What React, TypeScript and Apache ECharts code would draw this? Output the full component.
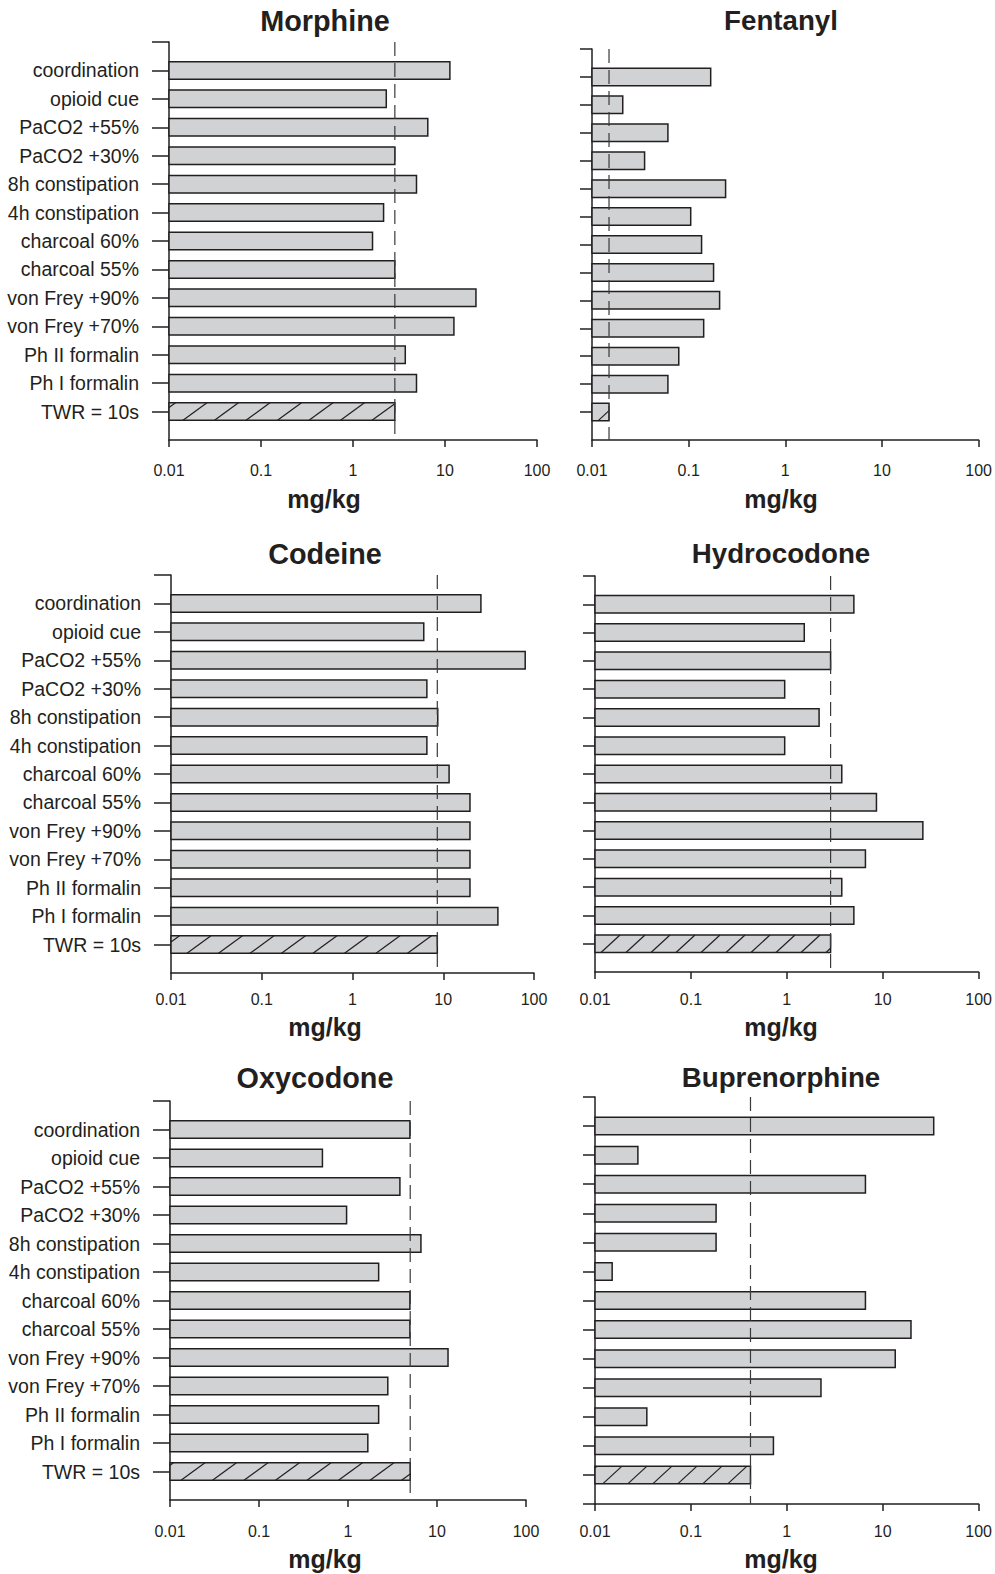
import React, { useEffect, useRef } from 'react';
import * as echarts from 'echarts';

// ---------- data ----------
const categories = [
  'coordination',
  'opioid cue',
  'PaCO2 +55%',
  'PaCO2 +30%',
  '8h constipation',
  '4h constipation',
  'charcoal 60%',
  'charcoal 55%',
  'von Frey +90%',
  'von Frey +70%',
  'Ph II formalin',
  'Ph I formalin',
  'TWR = 10s',
];

const xTickLabels = ['0.01', '0.1', '1', '10', '100'];

const morphine = [11.3, 2.3, 6.5, 2.85, 4.9, 2.15, 1.63, 2.85, 21.7, 12.5, 3.7, 4.9, 2.85];
const fentanyl = [0.169, 0.0208, 0.061, 0.035, 0.241, 0.105, 0.136, 0.181, 0.209, 0.143, 0.079, 0.061, 0.015];
const codeine = [26, 6.1, 80, 6.6, 8.7, 6.6, 11.6, 19.7, 19.7, 19.7, 19.7, 40, 8.6];
const hydrocodone = [5.0, 1.52, 2.86, 0.95, 2.17, 0.95, 3.74, 8.6, 26.2, 6.6, 3.74, 5.0, 2.86];
const oxycodone = [4.96, 0.516, 3.83, 0.964, 6.6, 2.21, 4.96, 4.96, 13.3, 2.8, 2.21, 1.67, 5.0];
const buprenorphine = [34, 0.028, 6.6, 0.183, 0.183, 0.0151, 6.6, 19.7, 13.5, 2.27, 0.0347, 0.725, 0.418];

const drugNames = ['Morphine', 'Fentanyl', 'Codeine', 'Hydrocodone', 'Oxycodone', 'Buprenorphine'];
const drugValues = [morphine, fentanyl, codeine, hydrocodone, oxycodone, buprenorphine];
const unitLabel = 'mg/kg';

// ---------- layout / style ----------
const INK = '#231f20';
const DASH = '#3a3a3a';
const FILL = '#d1d2d4';
const FONT = "'Liberation Sans', Arial, Helvetica, sans-serif";
const BAR_H = 17.5;
const X_MIN = 0.01;

const layout = [
  { grid: { left: 169, top: 42, width: 368, height: 398 }, labels: true, tickLen: 17, sp: 31.5, dx: 24, off: 14, tx: 325, ty: 20.5, tf: 28.8, ux: 324, uy: 499, lm: 22, bottomTick: false },
  { grid: { left: 592, top: 49, width: 388, height: 391 }, labels: false, tickLen: 12, sp: 25, dx: 19, off: 6, tx: 781, ty: 20.5, tf: 27.7, ux: 781, uy: 499, lm: 22, bottomTick: false },
  { grid: { left: 171, top: 575, width: 363, height: 398 }, labels: true, tickLen: 17, sp: 31.5, dx: 24, off: 16, tx: 325, ty: 554, tf: 28.8, ux: 325, uy: 1027, lm: 18, bottomTick: false },
  { grid: { left: 595, top: 576, width: 389, height: 396 }, labels: false, tickLen: 12, sp: 25, dx: 19, off: 6, tx: 781, ty: 553.5, tf: 27.7, ux: 781, uy: 1027, lm: 19, bottomTick: false },
  { grid: { left: 170, top: 1101, width: 356, height: 399 }, labels: true, tickLen: 17, sp: 31.5, dx: 24, off: 11, tx: 315, ty: 1077.5, tf: 28.8, ux: 325, uy: 1559, lm: 23, bottomTick: false },
  { grid: { left: 595, top: 1097, width: 389, height: 407 }, labels: false, tickLen: 12, sp: 25, dx: 19, off: 8, tx: 781, ty: 1077.5, tf: 27.7, ux: 781, uy: 1559, lm: 19, bottomTick: true },
];

// category axis runs bottom -> top, with an empty slot at each end
const yCats = ['', ...[...categories].reverse(), ''];

function makeRenderItem(L: any, lastIndex: number) {
  return (params: any, api: any) => {
    const v = api.value(0);
    const idx = api.value(1);
    const p0 = api.coord([X_MIN, idx]);
    const p1 = api.coord([v, idx]);
    const x0 = p0[0];
    const x1 = p1[0];
    const yc = p0[1];
    const yt = yc - BAR_H / 2;
    const yb = yc + BAR_H / 2;
    const children: any[] = [
      { type: 'rect', shape: { x: x0, y: yt, width: x1 - x0, height: BAR_H }, style: { fill: FILL } },
    ];
    const isRef = params.dataIndex === lastIndex;
    if (isRef) {
      for (let xb = x0 + L.off - L.sp; xb < x1; xb += L.sp) {
        const tA = Math.max(0, (x0 - xb) / L.dx);
        const tB = Math.min(1, (x1 - xb) / L.dx);
        if (tB <= tA) continue;
        children.push({
          type: 'line',
          shape: {
            x1: xb + tA * L.dx,
            y1: yb - tA * BAR_H,
            x2: xb + tB * L.dx,
            y2: yb - tB * BAR_H,
          },
          style: { stroke: INK, lineWidth: 1.2 },
        });
      }
    }
    children.push({
      type: 'rect',
      shape: { x: x0, y: yt, width: x1 - x0, height: BAR_H },
      style: { fill: 'none', stroke: INK, lineWidth: 1.5 },
    });
    if (isRef) {
      const top = api.coord([v, yCats.length - 1]);
      const bot = api.coord([v, 0]);
      children.push({
        type: 'line',
        shape: { x1: x1, y1: top[1], x2: x1, y2: bot[1] },
        style: { stroke: DASH, lineWidth: 1.2, lineDash: [14, 7] },
        z2: 10,
      });
    }
    return { type: 'group', children };
  };
}

function buildOption() {
  const grid: any[] = [];
  const xAxis: any[] = [];
  const yAxis: any[] = [];
  const series: any[] = [];
  const graphic: any[] = [];

  drugNames.forEach((name, i) => {
    const L = layout[i];
    const vals = drugValues[i];
    grid.push({ ...L.grid, containLabel: false });
    xAxis.push({
      type: 'log',
      logBase: 10,
      gridIndex: i,
      min: 0.01,
      max: 100,
      axisLine: { show: true, onZero: false, lineStyle: { color: INK, width: 1.5 } },
      axisTick: { show: true, length: 7, lineStyle: { color: INK, width: 1.5 } },
      minorTick: { show: false },
      splitLine: { show: false },
      axisLabel: {
        show: true,
        margin: L.lm,
        color: INK,
        fontSize: 16,
        fontFamily: FONT,
        formatter: (val: number) => {
          const k = Math.round(Math.log10(val)) + 2;
          return xTickLabels[k] ?? '';
        },
      },
    });
    yAxis.push({
      type: 'category',
      gridIndex: i,
      data: yCats,
      boundaryGap: false,
      axisLine: { show: true, lineStyle: { color: INK, width: 1.5 } },
      axisTick: {
        show: true,
        length: L.tickLen,
        interval: (idx: number) => (L.bottomTick ? true : idx !== 0),
        lineStyle: { color: INK, width: 1.5 },
      },
      axisLabel: {
        show: L.labels,
        interval: 0,
        margin: 30,
        color: INK,
        fontSize: 19.5,
        fontFamily: FONT,
      },
      splitLine: { show: false },
    });
    series.push({
      type: 'custom',
      name,
      xAxisIndex: i,
      yAxisIndex: i,
      clip: false,
      encode: { x: 0, y: 1 },
      data: vals.map((v, k) => [v, categories[k]]),
      renderItem: makeRenderItem(L, vals.length - 1),
    });
    graphic.push({
      type: 'text',
      x: L.tx,
      y: L.ty,
      style: {
        text: name,
        fill: INK,
        font: `bold ${L.tf}px ${FONT}`,
        textAlign: 'center',
        textVerticalAlign: 'middle',
      },
    });
    graphic.push({
      type: 'text',
      x: L.ux,
      y: L.uy,
      style: {
        text: unitLabel,
        fill: INK,
        font: `bold 25px ${FONT}`,
        textAlign: 'center',
        textVerticalAlign: 'middle',
      },
    });
  });

  return {
    animation: false,
    backgroundColor: '#ffffff',
    textStyle: { fontFamily: FONT, color: INK },
    grid,
    xAxis,
    yAxis,
    series,
    graphic,
  };
}

export default function App() {
  const ref = useRef<HTMLDivElement>(null);
  useEffect(() => {
    if (!ref.current) return;
    const chart = echarts.init(ref.current, undefined, { renderer: 'svg' });
    chart.setOption(buildOption() as any);
    return () => chart.dispose();
  }, []);
  return (
    <div
      ref={ref}
      style={{ position: 'absolute', left: 0, top: 0, width: 995, height: 1574, background: '#fff' }}
    />
  );
}
